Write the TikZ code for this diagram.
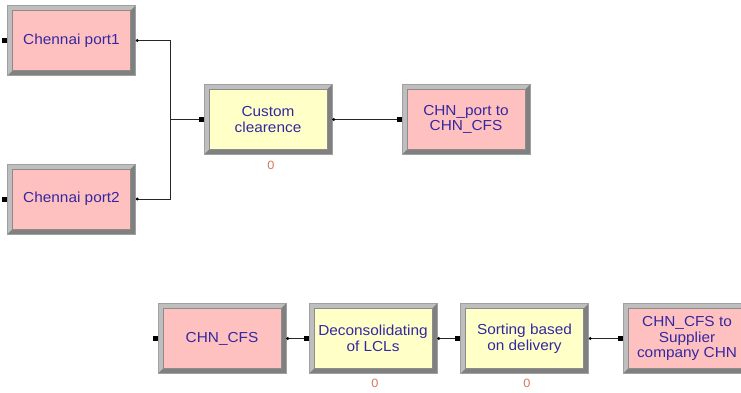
\documentclass[tikz,border=0pt]{standalone}
\usepackage{fontspec}
\newfontfamily\arf[FakeStretch=1.06]{Liberation Sans}
\definecolor{pinkfill}{RGB}{255,192,192}
\definecolor{yelfill}{RGB}{255,255,200}
\definecolor{txtblue}{RGB}{52,40,160}
\definecolor{bevlight}{RGB}{190,190,190}
\definecolor{bevdark}{RGB}{128,128,128}
\definecolor{zerocol}{RGB}{214,120,90}
\definecolor{edgegray}{RGB}{160,160,160}
\tikzset{
  armbox/.style={rectangle, minimum width=128pt, minimum height=70pt, inner sep=0pt,
    draw=edgegray, line width=0.6pt, fill=#1, align=center, text=txtblue,
    font=\arf\fontsize{14.5}{15.5}\selectfont,
    path picture={
      \fill[bevlight] (path picture bounding box.south west) -- (path picture bounding box.north west)
        -- (path picture bounding box.north east) -- ([shift={(-5pt,-5pt)}]path picture bounding box.north east)
        -- ([shift={(5pt,-5pt)}]path picture bounding box.north west)
        -- ([shift={(5pt,5pt)}]path picture bounding box.south west) -- cycle;
      \fill[bevdark] (path picture bounding box.south west) -- (path picture bounding box.south east)
        -- (path picture bounding box.north east) -- ([shift={(-5pt,-5pt)}]path picture bounding box.north east)
        -- ([shift={(-5pt,5pt)}]path picture bounding box.south east)
        -- ([shift={(5pt,5pt)}]path picture bounding box.south west) -- cycle;
      \draw[black!45, line width=0.5pt] ([shift={(5pt,5pt)}]path picture bounding box.south west)
        rectangle ([shift={(-5pt,-5pt)}]path picture bounding box.north east);
    }},
  conn/.style={draw=black!85, line width=0.8pt},
  zero/.style={text=zerocol, font=\arf\fontsize{12}{13}\selectfont, inner sep=0pt}
}
\begin{document}
\begin{tikzpicture}[x=1pt,y=-1pt]
\useasboundingbox (0,0) rectangle (741,392);
\clip (0,0) rectangle (741,392);
\node[armbox=pinkfill] (p1) at (71.5,40.5) {Chennai port1};
\node[armbox=pinkfill] (p2) at (71.5,199) {Chennai port2};
\node[armbox=yelfill] (cc) at (268,119.5) {Custom\\clearence};
\node[armbox=pinkfill] (c2c) at (466,119.5) {CHN\_port to\\CHN\_CFS};
\node[zero] (z1) at (271,165) {0};
\node[armbox=pinkfill] (cfs) at (222,338.5) {CHN\_CFS};
\node[armbox=yelfill] (dec) at (373,338.5) {Deconsolidating\\of LCLs};
\node[armbox=yelfill] (sort) at (524.5,338.5) {Sorting based\\on delivery};
\node[armbox=pinkfill] (sup) at (687,338.5) {CHN\_CFS to\\Supplier\\company CHN};
\node[zero] (z2) at (375,383) {0};
\node[zero] (z3) at (527,383) {0};
\coordinate (j) at (170,119.5);
\draw[conn] (p1.east) -| (j);
\draw[conn] (p2.east) -| (j);
\draw[conn] (j) -- (cc.west);
\draw[conn] (cc.east) -- (c2c.west);
\draw[conn] (cfs.east) -- (dec.west);
\draw[conn] (dec.east) -- (sort.west);
\draw[conn] (sort.east) -- (sup.west);
\foreach \n in {p1,p2,cc,c2c,cfs,dec,sort,sup}{
  \fill[black] ([xshift=-2.5pt]\n.west) ++(-2.5,-2.5) rectangle ++(5,5);
}
\foreach \n in {p1,p2,cc,cfs,dec,sort}{
  \fill[black] ([xshift=1.5pt]\n.east) circle (1.6pt);
}
\end{tikzpicture}
\end{document}
